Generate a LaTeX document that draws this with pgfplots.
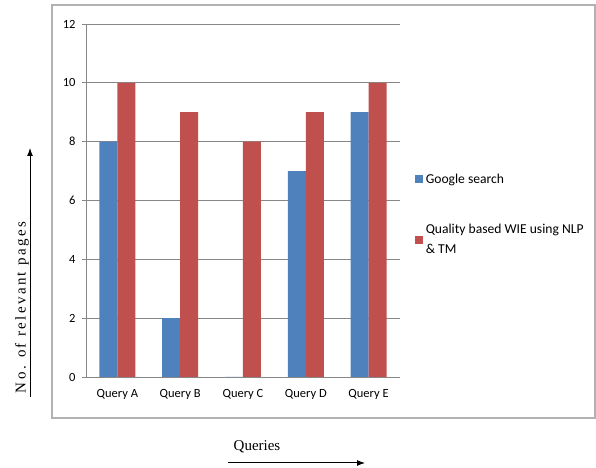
\documentclass[border=0pt]{standalone}
\usepackage{pgfplots}
\pgfplotsset{compat=1.18}
\usetikzlibrary{arrows.meta}
\usepackage{fontspec}
\setmainfont{Carlito}
\newfontfamily\seriffont{Liberation Serif}
\newfontfamily\seriffontls[LetterSpace=16]{Liberation Serif}
\definecolor{gblue}{HTML}{4F81BD}
\definecolor{qred}{HTML}{C0504D}
\definecolor{gridgray}{HTML}{878787}
\pgfplotsset{/pgfplots/ybar legend/.style={/pgfplots/legend image code/.code={\fill[##1,draw=none] (0bp,-4bp) rectangle (8bp,4bp);}}}
\begin{document}
\begin{tikzpicture}
\useasboundingbox (0bp,0bp) rectangle (596bp,468bp);
\draw[color=gray!60, line width=1.2bp] (52bp,463bp) rectangle (595bp,50bp);
\begin{axis}[
  at={(86bp,91bp)}, anchor=south west, scale only axis,
  width=314bp, height=353bp,
  ybar=0pt, bar width=18bp,
  ymin=0, ymax=12, ytick={0,2,...,12},
  xmin=-0.5, xmax=4.5,
  xtick={0,1,2,3,4},
  xticklabels={Query A,Query B,Query C,Query D,Query E},
  major x tick style={draw=none},
  extra x ticks={-0.5,0.5,1.5,2.5,3.5,4.5},
  extra x tick labels={},
  extra x tick style={grid=none, major tick style={draw=gridgray, line width=0.8bp}, major tick length=5bp},
  axis x line*=bottom, axis y line*=left,
  ymajorgrids, grid style={gridgray, line width=0.8bp},
  axis line style={gridgray, line width=0.8bp},
  tick align=outside, major tick length=4bp,
  ytick style={gridgray, line width=0.8bp},
  tick label style={font=\fontsize{12.5bp}{14bp}\selectfont, black},
  /pgf/number format/assume math mode=true,
  yticklabel style={xshift=-3bp},
  xticklabel style={yshift=-5bp},
  legend style={at={(rel axis cs:1.037,0.588)}, anchor=north west, draw=none, fill=none,
    font=\fontsize{13.6bp}{20bp}\selectfont, row sep=36bp, column sep=1bp,
    cells={anchor=west, align=left}},
]
\addplot[fill=gblue, draw=none] coordinates {(0,8) (1,2) (2,0) (3,7) (4,9)};
\addplot[fill=qred, draw=none] coordinates {(0,10) (1,9) (2,8) (3,9) (4,10)};
\legend{Google search, {Quality based WIE using NLP\\\& TM}}
\end{axis}
\node[rotate=90, font=\seriffontls\fontsize{15bp}{17bp}\selectfont] at (22bp,160.5bp) {No. of relevant pages};
\draw[-{Latex[length=8bp,width=6bp]}, line width=1bp] (30bp,71bp) -- (30bp,320bp);
\node[font=\seriffont\fontsize{15bp}{17bp}\selectfont] at (257bp,21bp) {Queries};
\draw[-{Latex[length=8bp,width=6bp]}, line width=1bp] (228bp,5bp) -- (365bp,5bp);
\end{tikzpicture}
\end{document}
